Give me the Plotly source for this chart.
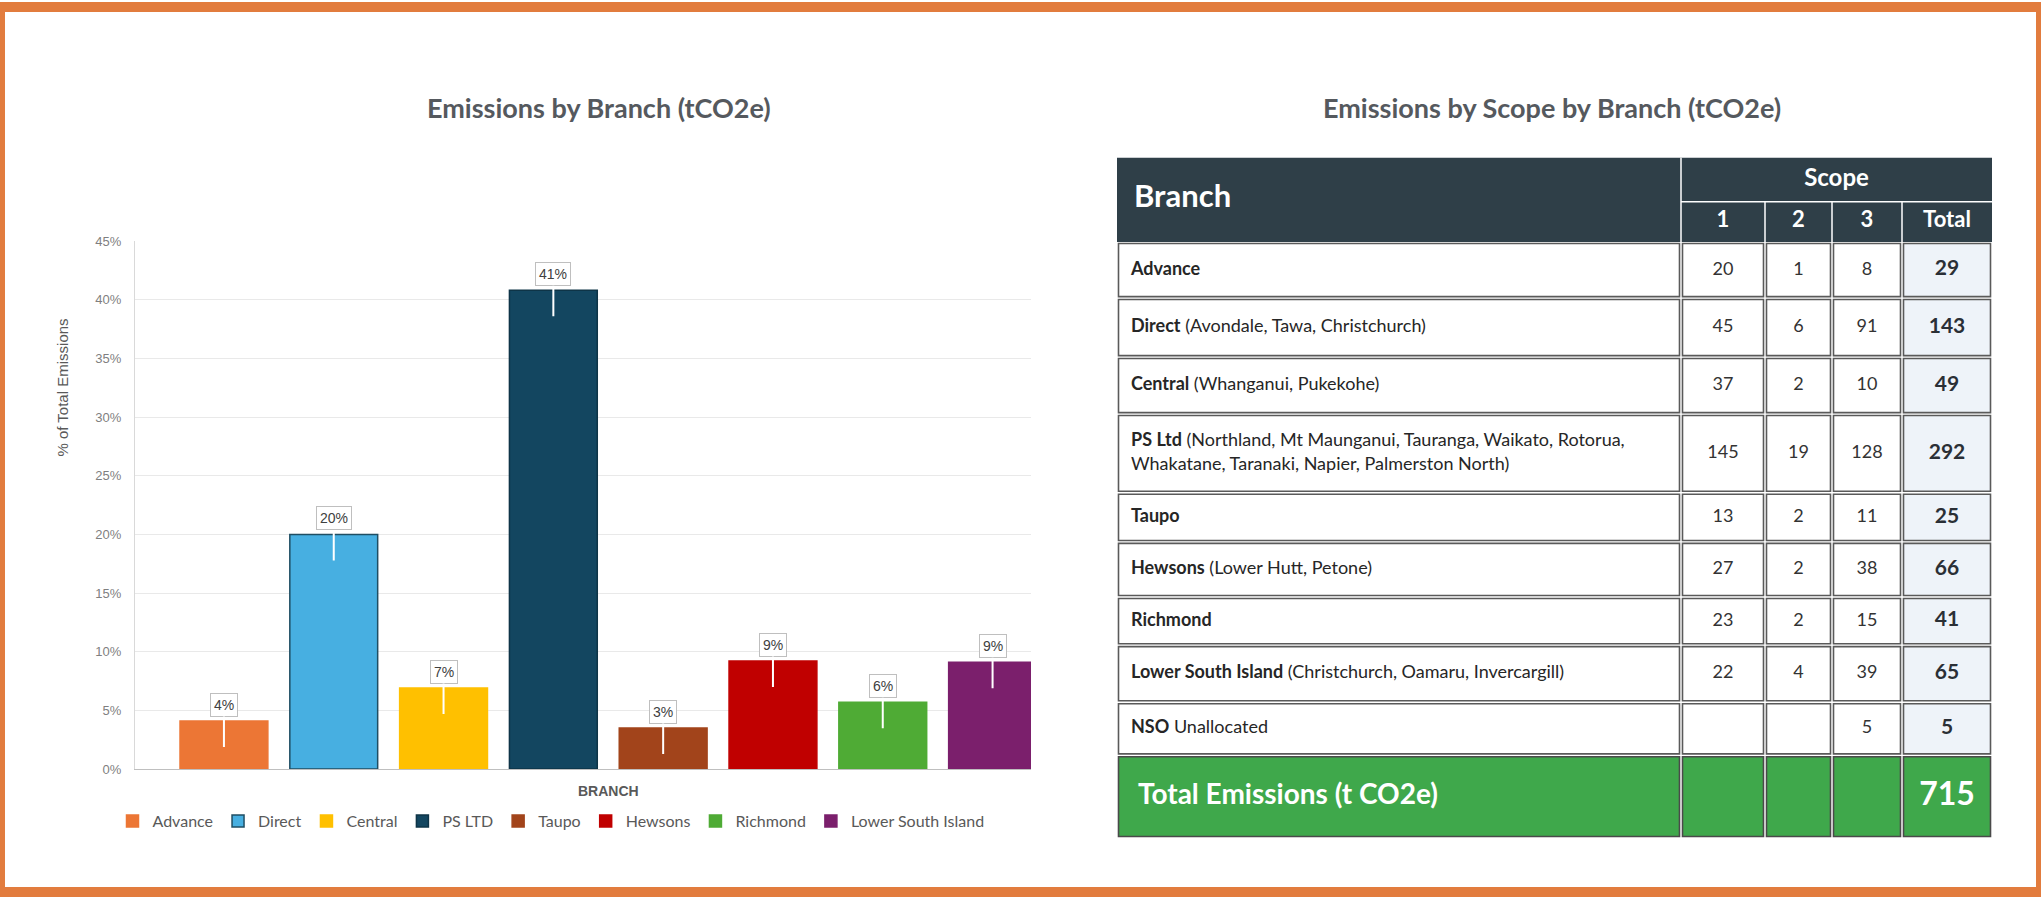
import plotly.graph_objects as go

W, H = 2041, 900
FONT = "Lato, Open Sans, sans-serif"
ARIAL = "Liberation Sans, Arial, sans-serif"
TXT = "#595959"

# left chart: share of total emissions by branch
branches = ["Advance", "Direct", "Central", "PS LTD", "Taupo", "Hewsons",
            "Richmond", "Lower South Island"]
share_pct = [4.1, 20.0, 6.9, 40.8, 3.5, 9.2, 5.7, 9.1]
share_labels = ["4%", "20%", "7%", "41%", "3%", "9%", "6%", "9%"]
bar_colors = ["#EC7635", "#47AFE1", "#FFC000", "#134660", "#A2441B",
              "#C00000", "#4FAB35", "#7B1F6C"]
bar_edges = ["#EC7635", "#1F4E63", "#FFC000", "#0E3447", "#A2441B",
             "#C00000", "#4FAB35", "#7B1F6C"]

# right table: emissions by scope by branch
row_branch = ["Advance", "Direct", "Central", "PS Ltd", "Taupo", "Hewsons",
              "Richmond", "Lower South Island", "NSO"]
row_sites = ["", "(Avondale, Tawa, Christchurch)", "(Whanganui, Pukekohe)",
             "(Northland, Mt Maunganui, Tauranga, Waikato, Rotorua,<br>"
             "Whakatane, Taranaki, Napier, Palmerston North)",
             "", "(Lower Hutt, Petone)", "",
             "(Christchurch, Oamaru, Invercargill)", "Unallocated"]
scope1 = [20, 45, 37, 145, 13, 27, 23, 22, None]
scope2 = [1, 6, 2, 19, 2, 2, 2, 4, None]
scope3 = [8, 91, 10, 128, 11, 38, 15, 39, 5]
row_totals = [29, 143, 49, 292, 25, 66, 41, 65, 5]
scope_heads = ["1", "2", "3", "Total"]
grand_total = 715

# table geometry (pixels)
TBL_X, TBL_Y = 1117, 153
col_w = [564, 84, 67, 70, 90]
head_h = [45, 41]
row_h = [57, 60, 58, 80, 50, 56, 49, 58, 54]
total_h = 84

HEAD = "#2F3F48"
GREEN = "#3FA84B"
TOTFILL = "#EEF3F9"
EDGE = "#5A5A5A"


def px(x):
    return x / W


def py(y):
    return 1 - y / H


def fmt(v):
    return "" if v is None else str(v)


def cumul(sizes, start=0):
    out = [start]
    for s in sizes:
        out.append(out[-1] + s)
    return out


fig = go.Figure()

for name, v, c, e in zip(branches, share_pct, bar_colors, bar_edges):
    fig.add_trace(go.Bar(x=[name], y=[v], name=name, width=0.8,
                         marker=dict(color=c, line=dict(color=e, width=1.5)),
                         hovertemplate="%{x}: %{y}%<extra></extra>"))

for name, v, lab in zip(branches, share_pct, share_labels):
    fig.add_annotation(x=name, y=v, yshift=-26, text=lab, showarrow=True,
                       ax=0, ay=-42, arrowhead=0, arrowwidth=2,
                       arrowcolor="white", bgcolor="white",
                       bordercolor="#BFBFBF", borderwidth=1, borderpad=3,
                       font=dict(family=ARIAL, size=14, color="#404040"))

# ---- table, drawn on its own pixel-scaled axes ----
cx = cumul(col_w)
head_y = cumul(head_h)
ry = cumul(row_h, head_y[-1])
ty = [ry[-1], ry[-1] + total_h]
tbl_w, tbl_h = cx[-1], ty[-1]
mid = [(a + b) / 2 for a, b in zip(cx[:-1], cx[1:])]
row_mid = [(a + b) / 2 for a, b in zip(ry[:-1], ry[1:])]


def cell(x0, x1, y0, y1, fill, edge=EDGE):
    fig.add_shape(type="rect", xref="x2", yref="y2", layer="below",
                  x0=x0 + 1.5, x1=x1 - 1.5, y0=y0 + 1.5, y1=y1 - 1.5,
                  fillcolor=fill, line=dict(color=edge, width=1.6))


def wline(x0, x1, y0, y1):
    fig.add_shape(type="line", xref="x2", yref="y2", layer="below",
                  x0=x0, x1=x1, y0=y0, y1=y1,
                  line=dict(color="white", width=1.5))


fig.add_shape(type="rect", xref="x2", yref="y2", layer="below",
              x0=0, x1=tbl_w, y0=0, y1=head_y[-1], fillcolor=HEAD,
              line=dict(width=0))
wline(cx[1], cx[1], 0, head_y[-1])
wline(cx[1], tbl_w, head_y[1], head_y[1])
for x in cx[2:-1]:
    wline(x, x, head_y[1], head_y[-1])

for i in range(len(row_branch)):
    for j in range(len(col_w)):
        cell(cx[j], cx[j + 1], ry[i], ry[i + 1],
             TOTFILL if j == len(col_w) - 1 else "white")
for j in range(len(col_w)):
    cell(cx[j], cx[j + 1], ty[0], ty[1], GREEN, "#4A4A4A")


def text_trace(x, y, text, size, color="white", pos="middle center"):
    fig.add_trace(go.Scatter(x=x, y=y, text=text, mode="text",
                             textposition=pos, xaxis="x2", yaxis="y2",
                             textfont=dict(family=FONT, size=size, color=color),
                             showlegend=False, hoverinfo="skip"))


text_trace([17], [head_y[-1] / 2], ["<b>Branch</b>"], 31, pos="middle right")
text_trace([(cx[1] + tbl_w) / 2], [head_y[1] / 2], ["<b>Scope</b>"], 24)
text_trace(mid[1:], [(head_y[1] + head_y[2]) / 2] * 4,
           ["<b>%s</b>" % s for s in scope_heads], 22)

branch_txt = ["<b>%s</b> %s" % (b, s) for b, s in zip(row_branch, row_sites)]
text_trace([14] * len(branch_txt), row_mid, branch_txt, 18, "#262626",
           "middle right")
for j, col in enumerate([scope1, scope2, scope3]):
    text_trace([mid[j + 1]] * len(col), row_mid, [fmt(v) for v in col], 18,
               "#333333")
text_trace([mid[4]] * len(row_totals), row_mid,
           ["<b>%d</b>" % v for v in row_totals], 21, "#2A2F36")

text_trace([21], [(ty[0] + ty[1]) / 2], ["<b>Total Emissions (t CO2e)</b>"],
           28, pos="middle right")
text_trace([mid[4]], [(ty[0] + ty[1]) / 2], ["<b>%d</b>" % grand_total], 32)

# titles and axis captions
fig.add_annotation(xref="paper", yref="paper", x=px(599), y=py(102),
                   xanchor="center", yanchor="middle", showarrow=False,
                   text="<b>Emissions by Branch (tCO2e)</b>",
                   font=dict(family=FONT, size=27, color="#55595E"))
fig.add_annotation(xref="paper", yref="paper", x=px(1552), y=py(102),
                   xanchor="center", yanchor="middle", showarrow=False,
                   text="<b>Emissions by Scope by Branch (tCO2e)</b>",
                   font=dict(family=FONT, size=27, color="#55595E"))
fig.add_annotation(xref="paper", yref="paper", x=px(63), y=py(387),
                   xanchor="center", yanchor="middle", showarrow=False,
                   textangle=-90, text="% of Total Emissions",
                   font=dict(family=ARIAL, size=15, color=TXT))
fig.add_annotation(xref="paper", yref="paper", x=px(608), y=py(797),
                   xanchor="center", yanchor="middle", showarrow=False,
                   text="<b>BRANCH</b>",
                   font=dict(family=ARIAL, size=14, color=TXT))

fig.add_shape(type="rect", xref="paper", yref="paper", x0=0, x1=1, y0=0, y1=1,
              line=dict(color="#E27C3E", width=10))

fig.update_layout(
    width=W, height=H, margin=dict(l=0, r=0, t=0, b=0),
    paper_bgcolor="white", plot_bgcolor="white", barmode="overlay",
    showlegend=True,
    legend=dict(orientation="h", x=px(551), xanchor="center", y=py(828),
                yanchor="middle", font=dict(family=FONT, size=16, color=TXT)),
    xaxis=dict(domain=[px(135), px(1031)], type="category",
               range=[-0.81, 7.35], showticklabels=False, showline=True,
               linecolor="#BFBFBF", linewidth=1, showgrid=False,
               zeroline=False, fixedrange=True),
    yaxis=dict(domain=[py(775), py(238)], range=[0, 45], dtick=5,
               ticksuffix="%", showgrid=True, gridcolor="#E9E9E9",
               showline=True, linecolor="#D9D9D9", zeroline=False,
               ticks="", ticklabelstandoff=10,
               tickfont=dict(family=ARIAL, size=13, color="#7F7F7F"),
               fixedrange=True),
    xaxis2=dict(domain=[px(TBL_X), px(TBL_X + tbl_w)], range=[0, tbl_w],
                anchor="y2", visible=False, fixedrange=True),
    yaxis2=dict(domain=[py(TBL_Y + tbl_h), py(TBL_Y)], range=[tbl_h, 0],
                anchor="x2", visible=False, fixedrange=True),
)

fig.write_html("out.html", config={"displayModeBar": False},
               post_script="document.body.style.margin='0';"
                           "document.body.style.overflow='hidden';")
